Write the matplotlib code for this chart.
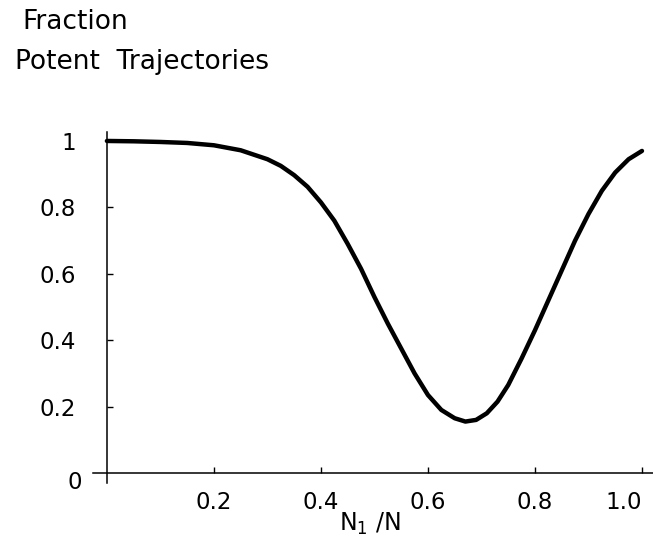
import matplotlib
matplotlib.use("Agg")
import matplotlib.pyplot as plt

# values
ratio = [0.0, 0.05, 0.1, 0.15, 0.2, 0.25, 0.3, 0.325, 0.35, 0.375, 0.4, 0.425,
         0.45, 0.475, 0.5, 0.525, 0.55, 0.575, 0.6, 0.625, 0.65, 0.67, 0.69,
         0.71, 0.73, 0.75, 0.775, 0.8, 0.825, 0.85, 0.875, 0.9, 0.925, 0.95,
         0.975, 1.0]
fraction = [1.0, 0.999, 0.997, 0.994, 0.987, 0.972, 0.945, 0.925, 0.897, 0.862,
            0.815, 0.76, 0.69, 0.615, 0.53, 0.45, 0.375, 0.3, 0.235, 0.19,
            0.165, 0.155, 0.16, 0.18, 0.215, 0.265, 0.345, 0.43, 0.52, 0.61,
            0.7, 0.78, 0.85, 0.905, 0.945, 0.97]

xticks = [0.2, 0.4, 0.6, 0.8, 1.0]
xticklabels = ["0.2", "0.4", "0.6", "0.8", "1.0"]
yticks = [0.2, 0.4, 0.6, 0.8, 1.0]
yticklabels = ["0.2", "0.4", "0.6", "0.8", "1"]

plt.rcParams['font.family'] = 'DejaVu Sans'
plt.rcParams['mathtext.fontset'] = 'dejavusans'

fig = plt.figure(figsize=(6.53, 5.55), dpi=100)
ax = fig.add_axes([93 / 653, 72 / 555, 560 / 653, 351 / 555])

ax.plot(ratio, fraction, color="black", lw=3.2, solid_capstyle="round")

ax.set_xlim(-0.026, 1.0206)
ax.set_ylim(-0.030, 1.027)

for s in ["top", "right"]:
    ax.spines[s].set_visible(False)
ax.spines["left"].set_position(("data", 0))
ax.spines["bottom"].set_position(("data", 0))
ax.spines["left"].set_linewidth(1.1)
ax.spines["bottom"].set_linewidth(1.1)

ax.set_xticks(xticks)
ax.set_xticklabels(xticklabels)
ax.set_yticks(yticks)
ax.set_yticklabels(yticklabels)
ax.tick_params(axis="x", direction="in", length=4, width=1, pad=13, labelsize=16.5)
ax.tick_params(axis="y", direction="in", length=4, width=1, pad=22, labelsize=16.5)
ax.get_xticklabels()[-1].set_ha("right")

ax.text(-0.047, -0.027, "0", ha="right", va="center", fontsize=16.5)

fig.text(370 / 653, 1 - 524 / 555, "N$_1$ /N", ha="center", va="center", fontsize=17)
fig.text(22 / 653, 1 - 22 / 555, "Fraction", ha="left", va="center", fontsize=19)
fig.text(15 / 653, 1 - 62 / 555, "Potent  Trajectories", ha="left", va="center", fontsize=19)

fig.savefig("out.png", dpi=100)
